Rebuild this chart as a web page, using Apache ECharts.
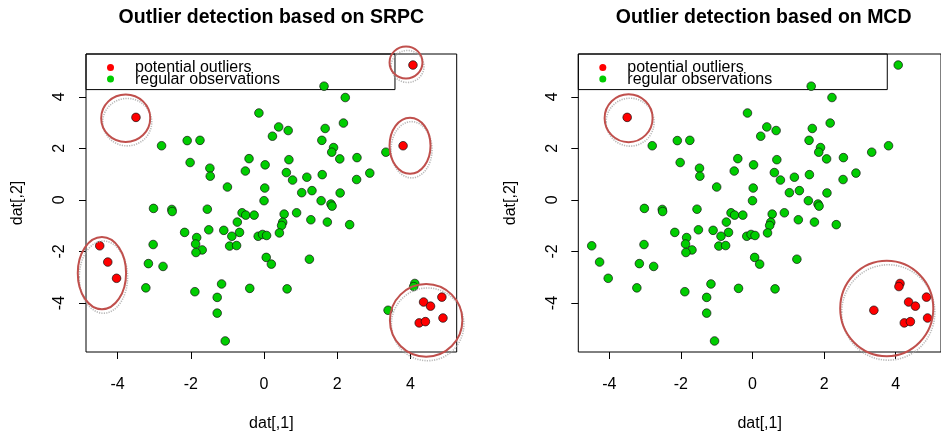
<!DOCTYPE html>
<html>
<head>
<meta charset="utf-8">
<script src="https://cdn.jsdelivr.net/npm/echarts@6/dist/echarts.min.js"></script>
<style>
  html, body { margin: 0; padding: 0; background: #fff; }
  #chart { width: 941px; height: 437px; }
</style>
</head>
<body>
<div id="chart"></div>
<script>
// Observations (dat[,1], dat[,2])
const obsX = [
  1.64, 2.22, -0.14, 2.17, 0.40, 0.66, 1.67, 0.23, -2.10, -1.75,
  -2.80, 1.58, 1.90, 1.85, 3.33, -2.02, -0.41, 2.07, 2.54, 0.68,
  -1.48, -1.47, -0.51, 0.03, 0.61, 1.59, 1.17, 0.78, 2.89, 2.53,
  -1.00, 0.02, 1.03, 1.31, 2.08, 0.00, 1.56, 1.83, 1.86, -3.02,
  -2.52, -2.51, -1.55, -0.60, -0.50, -0.27, 0.55, 0.89, -0.73, 1.28,
  1.73, 2.34, 0.51, 0.48, -1.51, -1.10, -0.67, -2.17, 0.42, -1.84,
  -0.88, -0.16, -0.04, 0.07, -3.03, -1.87, -1.69, -1.86, -0.94, -0.75,
  -3.16, -2.76, 0.06, 0.20, 1.24, -3.23, -1.89, -1.16, -0.39, 0.63,
  -1.28, -1.28, -1.06, 3.39, 4.12, 4.09,
  4.07, -3.50, 3.80, -4.49, -4.27, -4.03, 4.36, 4.55, 4.86, 4.89, 4.24, 4.41
];
const obsY = [
  4.41, 3.97, 3.37, 2.98, 2.83, 2.69, 2.77, 2.47, 2.30, 2.31,
  2.10, 2.31, 2.03, 1.85, 1.85, 1.45, 1.60, 1.59, 1.64, 1.56,
  1.23, 0.92, 1.12, 1.36, 1.06, 0.98, 0.88, 0.77, 1.04, 0.79,
  0.50, 0.46, 0.28, 0.36, 0.27, -0.03, -0.03, -0.16, -0.24, -0.33,
  -0.37, -0.45, -0.36, -0.50, -0.59, -0.59, -0.55, -0.50, -0.86, -0.77,
  -0.86, -0.96, -0.87, -0.99, -1.16, -1.18, -1.26, -1.26, -1.28, -1.46,
  -1.41, -1.41, -1.34, -1.38, -1.73, -1.71, -1.94, -2.04, -1.79, -1.77,
  -2.47, -2.58, -2.23, -2.49, -2.30, -3.41, -3.56, -3.26, -3.43, -3.45,
  -3.78, -4.39, -5.47, -4.28, -3.24, -3.36,
  5.23, 3.20, 2.10, -1.78, -2.41, -3.04, -3.96, -4.12, -3.77, -4.58, -4.77, -4.72
];
// 1 = flagged as potential outlier by each method
const srpcOutlier = [
  0,0,0,0,0,0,0,0,0,0, 0,0,0,0,0,0,0,0,0,0, 0,0,0,0,0,0,0,0,0,0,
  0,0,0,0,0,0,0,0,0,0, 0,0,0,0,0,0,0,0,0,0, 0,0,0,0,0,0,0,0,0,0,
  0,0,0,0,0,0,0,0,0,0, 0,0,0,0,0,0,0,0,0,0, 0,0,0,0,0,0,
  1,1,1,1,1,1,1,1,1,1,1,1
];
const mcdOutlier = [
  0,0,0,0,0,0,0,0,0,0, 0,0,0,0,0,0,0,0,0,0, 0,0,0,0,0,0,0,0,0,0,
  0,0,0,0,0,0,0,0,0,0, 0,0,0,0,0,0,0,0,0,0, 0,0,0,0,0,0,0,0,0,0,
  0,0,0,0,0,0,0,0,0,0, 0,0,0,0,0,0,0,0,0,0, 0,0,0,1,1,1,
  0,1,0,0,0,0,1,1,1,1,1,1
];
// Highlight rings: [centre x, centre y, radius x, radius y] in data units
const srpcRings = [
  [-3.78, 3.17, 0.67, 0.92],
  [3.88, 5.33, 0.45, 0.62],
  [3.99, 2.10, 0.56, 1.09],
  [-4.43, -2.84, 0.66, 1.40],
  [4.43, -4.67, 0.99, 1.41]
];
const mcdRings = [
  [-3.46, 3.17, 0.67, 0.93],
  [3.75, -4.21, 1.30, 1.85]
];
const xTicks = [-4, -2, 0, 2, 4];
const yTicks = [-4, -2, 0, 2, 4];
const panelTitles = ['Outlier detection based on SRPC', 'Outlier detection based on MCD'];

const FONT = '"Liberation Sans", Arial, Helvetica, sans-serif';
const RED = '#FF0000';
const GREEN = '#00CD00';

// R-style range: data extent stretched by 4% on each side
function rRange(v) {
  const lo = Math.min(...v), hi = Math.max(...v), d = (hi - lo) * 0.04;
  return [lo - d, hi + d];
}
const xr = rRange(obsX);
const yr = rRange(obsY);

function split(flags, want) {
  const out = [];
  for (let i = 0; i < obsX.length; i++) if (flags[i] === want) out.push([obsX[i], obsY[i]]);
  return out;
}

const gridLefts = [86, 578.3];
const gridW = 370.7, gridH = 300, gridTop = 54;

const grids = gridLefts.map(l => ({
  left: l, top: gridTop, width: gridW, height: gridH,
  show: true, borderColor: '#000', borderWidth: 1, backgroundColor: 'transparent'
}));

const xAxes = gridLefts.map((_, i) => ({
  gridIndex: i, type: 'value', min: xr[0], max: xr[1], position: 'bottom',
  name: 'dat[,1]', nameLocation: 'middle', nameGap: 64,
  nameTextStyle: { fontSize: 16, color: '#000', fontFamily: FONT },
  axisLine: { show: false, onZero: false },
  axisTick: { show: true, length: 7, lineStyle: { color: '#000', width: 1 }, customValues: xTicks },
  axisLabel: { customValues: xTicks, fontSize: 16, color: '#000', fontFamily: FONT, margin: 25 },
  splitLine: { show: false }
}));

const yAxes = gridLefts.map((_, i) => ({
  gridIndex: i, type: 'value', min: yr[0], max: yr[1], position: 'left',
  name: 'dat[,2]', nameLocation: 'middle', nameGap: 60,
  nameTextStyle: { fontSize: 16, color: '#000', fontFamily: FONT },
  axisLine: { show: false, onZero: false },
  axisTick: { show: true, length: 7, lineStyle: { color: '#000', width: 1 }, customValues: yTicks },
  axisLabel: { customValues: yTicks, rotate: 90, fontSize: 16, color: '#000', fontFamily: FONT, margin: 18 },
  splitLine: { show: false }
}));

function ringRenderer(params, api) {
  const c = api.coord([api.value(0), api.value(1)]);
  const s = api.size([api.value(2), api.value(3)]);
  return {
    type: 'group',
    children: [
      { type: 'ellipse', shape: { cx: c[0] + 1.5, cy: c[1] + 4, rx: s[0], ry: s[1] },
        style: { fill: 'none', stroke: '#a8a8a8', lineWidth: 1.6, lineDash: [1.2, 1.2], opacity: 0.8 } },
      { type: 'ellipse', shape: { cx: c[0], cy: c[1], rx: s[0], ry: s[1] },
        style: { fill: 'none', stroke: '#C0504D', lineWidth: 2 } }
    ]
  };
}

const flagSets = [srpcOutlier, mcdOutlier];
const ringSets = [srpcRings, mcdRings];
const series = [];
flagSets.forEach((flags, i) => {
  series.push({
    type: 'scatter', name: 'regular observations', xAxisIndex: i, yAxisIndex: i,
    data: split(flags, 0), symbol: 'circle', symbolSize: 8.6, z: 3,
    itemStyle: { color: GREEN, borderColor: '#111', borderWidth: 0.7, opacity: 1 },
    emphasis: { disabled: true }, silent: true
  });
  series.push({
    type: 'scatter', name: 'potential outliers', xAxisIndex: i, yAxisIndex: i,
    data: split(flags, 1), symbol: 'circle', symbolSize: 8.6, z: 4,
    itemStyle: { color: RED, borderColor: '#111', borderWidth: 0.7, opacity: 1 },
    emphasis: { disabled: true }, silent: true
  });
  series.push({
    type: 'custom', name: 'rings', xAxisIndex: i, yAxisIndex: i,
    data: ringSets[i], renderItem: ringRenderer, z: 6, silent: true, clip: false
  });
});

const legends = gridLefts.map(l => ({
  left: l, top: gridTop, orient: 'vertical', z: 1,
  data: ['potential outliers', 'regular observations'],
  icon: 'circle', itemWidth: 7, itemHeight: 7, itemGap: -4.4,
  itemStyle: { borderWidth: 0 },
  selectedMode: false,
  padding: [5.5, 115, 2.5, 21],
  borderColor: '#000', borderWidth: 1, borderRadius: 0,
  backgroundColor: 'transparent',
  textStyle: { fontSize: 16, lineHeight: 16, color: '#000', fontFamily: FONT, padding: [0, 0, 0, 16] }
}));

const titles = panelTitles.map((t, i) => ({
  text: t, left: gridLefts[i] + gridW / 2 - 5, top: 3, textAlign: 'center',
  textStyle: { fontSize: 19.5, fontWeight: 'bold', color: '#000', fontFamily: FONT }
}));

const chart = echarts.init(document.getElementById('chart'), null, { renderer: 'canvas' });
chart.setOption({
  animation: false,
  backgroundColor: '#fff',
  title: titles,
  legend: legends,
  grid: grids,
  xAxis: xAxes,
  yAxis: yAxes,
  series: series
});
</script>
</body>
</html>
